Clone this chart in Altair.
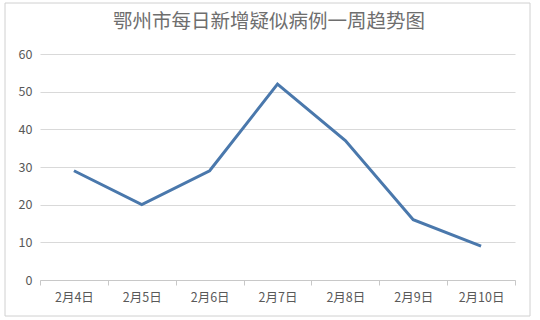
import altair as alt
import pandas as pd

dates = ["2月4日", "2月5日", "2月6日", "2月7日", "2月8日", "2月9日", "2月10日"]
cases = [29, 20, 29, 52, 37, 16, 9]
y_ticks = [0, 10, 20, 30, 40, 50, 60]
title_text = "鄂州市每日新增疑似病例一周趋势图"

df = pd.DataFrame({"date": dates, "cases": cases})
FONT = "Noto Sans CJK SC"

frame = alt.Chart(pd.DataFrame({"a": [0]})).mark_rect(
    fill=None, stroke="#d0d0d0", strokeWidth=1
).encode(
    x=alt.value(-35), x2=alt.value(490), y=alt.value(-51), y2=alt.value(262)
)

title = alt.Chart(pd.DataFrame({"t": [title_text]})).mark_text(
    font=FONT, fontSize=19.5, color="#6e6e6e", align="center", baseline="middle"
).encode(
    text="t:N", x=alt.value(229), y=alt.value(-32)
)

line = alt.Chart(df).mark_line(color="#4a78ac", strokeWidth=3).encode(
    x=alt.X("date:N", sort=dates,
            scale=alt.Scale(type="band", paddingInner=0, paddingOuter=0),
            axis=alt.Axis(title=None, labelAngle=0, tickBand="extent",
                          domainColor="#c8c8c8", tickColor="#c8c8c8", tickSize=5,
                          labelColor="#595959", labelFontSize=12.5, labelFont=FONT,
                          labelPadding=6, grid=False)),
    y=alt.Y("cases:Q", scale=alt.Scale(domain=[0, 60], nice=False),
            axis=alt.Axis(title=None, values=y_ticks, domain=False, ticks=False,
                          gridColor="#d9d9d9", labelColor="#595959", labelFontSize=12.5,
                          labelFont=FONT, labelPadding=8)),
)

chart = alt.layer(frame, title, line).properties(
    width=475, height=226,
    autosize=alt.AutoSizeParams(type="none"),
    padding={"left": 40, "top": 54, "right": 25, "bottom": 40},
).configure_view(stroke=None)

chart.save("out.html", embed_options={"renderer": "svg", "actions": False})
